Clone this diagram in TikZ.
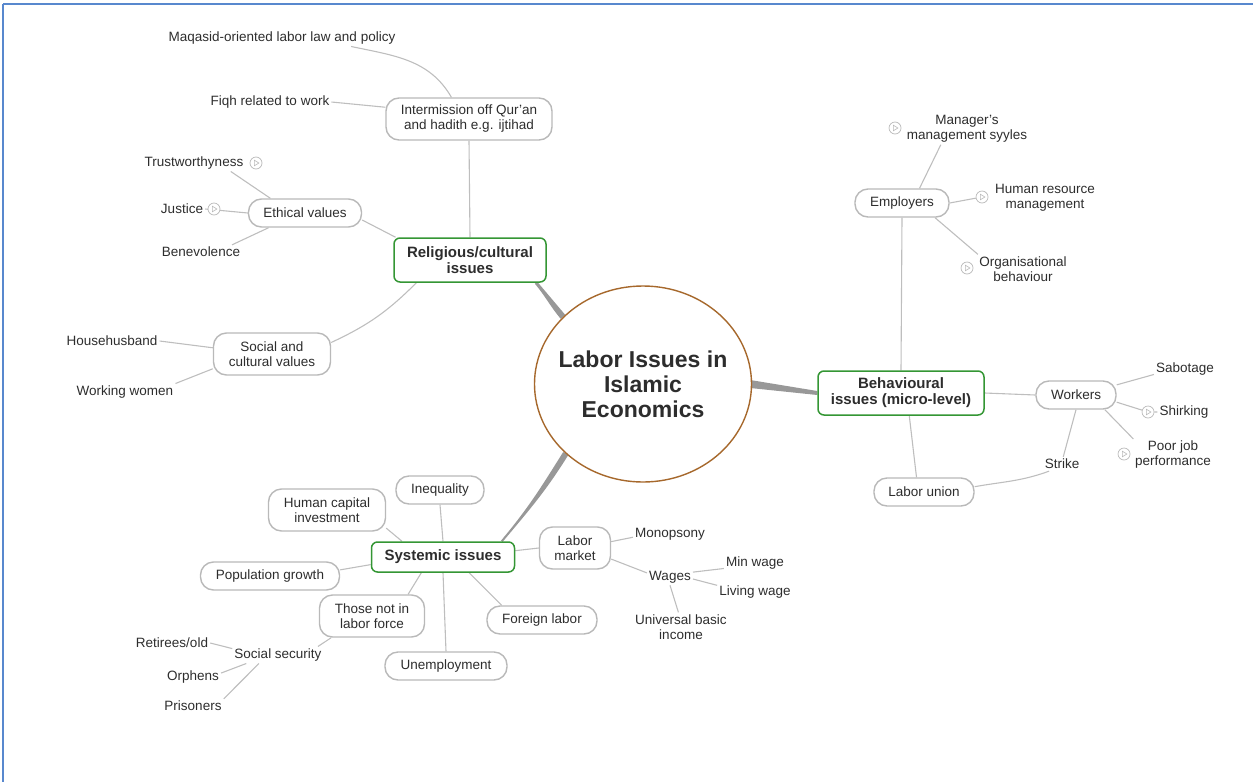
\documentclass[tikz,border=0pt]{standalone}
\usepackage{fontspec}
\setmainfont{Liberation Sans}
\usepackage{xcolor}
\usetikzlibrary{shapes.geometric, backgrounds}

\definecolor{framebl}{RGB}{88,136,206}
\definecolor{hubring}{RGB}{166,104,44}
\definecolor{branchgr}{RGB}{52,150,52}
\definecolor{leafgr}{RGB}{185,185,185}
\definecolor{linkgr}{RGB}{190,190,190}
\definecolor{trunkgr}{RGB}{152,152,152}
\definecolor{inkgr}{RGB}{45,45,45}

\begin{document}
\begin{tikzpicture}[
    x=1pt, y=-1pt,
    hub/.style={ellipse, draw=hubring, line width=1.4pt, fill=white,
                minimum width=217pt, minimum height=196pt, inner sep=0pt},
    hubtext/.style={align=center, text=inkgr,
                font=\fontsize{23}{25}\selectfont\bfseries},
    branch/.style={rectangle, rounded corners=6pt, draw=branchgr, line width=1.5pt,
                fill=white, minimum height=30pt, align=center, text=inkgr,
                font=\fontsize{15}{16}\selectfont\bfseries},
    leaf/.style={rectangle, rounded corners=13pt, draw=leafgr, line width=1.4pt,
                fill=white, minimum height=28pt, inner xsep=12pt, align=center,
                text=inkgr, font=\fontsize{13.5}{15}\selectfont},
    plain/.style={inner sep=2pt, align=center, text=inkgr,
                font=\fontsize{13.5}{15}\selectfont},
    icon/.style={circle, draw=leafgr, fill=white, line width=0.7pt,
                minimum size=12pt, inner sep=0pt,
                path picture={\draw[leafgr, line width=0.6pt]
                  ([xshift=-1.7pt,yshift=2.8pt]path picture bounding box.center)
                  -- ++(4.6pt,-2.8pt) -- ++(-4.6pt,-2.8pt) -- cycle;}},
    link/.style={draw=linkgr, line width=1.1pt},
    trunk/.style={fill=trunkgr}
]
\useasboundingbox (0,0) rectangle (1253,782);
\draw[framebl, line width=2.5pt] (1253,4) -- (3,4);
\draw[framebl, line width=1.5pt] (3,4) -- (3,782);

% centre
\node[hub] (hub) at (643,384) {};
\node[hubtext] (hubT) at (hub.center) {Labor Issues in\\Islamic\\Economics};

% religious / cultural
\node[branch, minimum width=152pt, minimum height=44pt] (rel) at (470,260) {Religious/cultural\\issues};
\node[leaf, minimum width=166pt, minimum height=42pt] (itm) at (469,119) {Intermission off Qur'an\\and hadith e.g. ijtihad};
\node[plain] (maq) at (282,38) {Maqasid-oriented labor law and policy};
\node[plain] (fiqh) at (270,102) {Fiqh related to work};
\node[leaf, minimum width=113pt] (eth) at (305,213) {Ethical values};
\node[plain] (trust) at (194,163) {Trustworthyness};
\node[icon] (trustI) at (256,163) {};
\node[plain] (just) at (182,209) {Justice};
\node[icon] (justI) at (214,209) {};
\node[plain] (bene) at (201,252) {Benevolence};
\node[leaf, minimum width=117pt, minimum height=42pt] (soc) at (272,354) {Social and\\cultural values};
\node[plain] (hhb) at (112,341) {Househusband};
\node[plain] (wwm) at (125,392) {Working women};

% behavioural
\node[branch, minimum width=166pt, minimum height=44pt] (bhv) at (901,393) {Behavioural\\issues (micro-level)};
\node[leaf, minimum width=94pt] (emp) at (902,203) {Employers};
\node[plain] (mgr) at (967,129) {Manager's\\management syyles};
\node[icon] (mgrI) at (895,128) {};
\node[plain] (hrm) at (1045,198) {Human resource\\management};
\node[icon] (hrmI) at (982,197) {};
\node[plain] (org) at (1023,269) {Organisational\\behaviour};
\node[icon] (orgI) at (967,268) {};
\node[leaf, minimum width=80pt] (wrk) at (1076,395) {Workers};
\node[plain] (sab) at (1185,369) {Sabotage};
\node[plain] (shk) at (1184,412) {Shirking};
\node[icon] (shkI) at (1148,412) {};
\node[plain] (poor) at (1173,455) {Poor job\\performance};
\node[icon] (poorI) at (1124,454) {};
\node[plain] (strk) at (1062,464) {Strike};
\node[leaf, minimum width=100pt] (lun) at (924,492) {Labor union};

% systemic
\node[branch, minimum width=143pt] (sys) at (443,557) {Systemic issues};
\node[leaf, minimum width=88pt] (ineq) at (440,490) {Inequality};
\node[leaf, minimum width=117pt, minimum height=42pt] (hci) at (327,510) {Human capital\\investment};
\node[leaf, minimum width=139pt] (pop) at (270,576) {Population growth};
\node[leaf, minimum width=105pt, minimum height=42pt] (tnl) at (372,616) {Those not in\\labor force};
\node[plain] (ssec) at (278,655) {Social security};
\node[plain] (ret) at (172,643) {Retirees/old};
\node[plain] (orph) at (193,677) {Orphens};
\node[plain] (pris) at (193,706) {Prisoners};
\node[leaf, minimum width=122pt] (unemp) at (446,666) {Unemployment};
\node[leaf, minimum width=110pt] (fgn) at (542,620) {Foreign labor};
\node[leaf, minimum width=71pt, minimum height=42pt, inner xsep=6pt] (lmk) at (575,548) {Labor\\market};
\node[plain] (mono) at (670,534) {Monopsony};
\node[plain] (wage) at (670,577) {Wages};
\node[plain] (minw) at (755,563) {Min wage};
\node[plain] (livw) at (755,592) {Living wage};
\node[plain] (ubi) at (681,627) {Universal basic\\income};

\begin{scope}[on background layer]
% trunks (tapered, wide at the hub)
\fill[trunk] ([xshift=1.2pt,yshift=1pt]rel.-19) to[out=-50,in=130]
    ([xshift=2.3pt,yshift=1.9pt]hub.140) -- ([xshift=-2.3pt,yshift=-1.9pt]hub.140)
    to[out=130,in=-50] ([xshift=-1.2pt,yshift=-1pt]rel.-19) -- cycle;
\fill[trunk] ([xshift=-2pt,yshift=4pt]hub.east) -- ([yshift=2pt]bhv.west)
    -- ([yshift=-2pt]bhv.west) -- ([xshift=-2pt,yshift=-4pt]hub.east) -- cycle;
\fill[trunk] ([xshift=-2.5pt,yshift=1.6pt]hub.222) to[out=238,in=50]
    ([xshift=-0.8pt,yshift=0.6pt]sys.15) -- ([xshift=0.8pt,yshift=-0.6pt]sys.15)
    to[out=50,in=238] ([xshift=2.5pt,yshift=-1.6pt]hub.222) -- cycle;
% religious links
\draw[link] (itm.south) -- (rel.north);
\draw[link] (maq.-7.5) to[out=-12,in=120] (itm.129);
\draw[link] (fiqh.east) -- (itm.172);
\draw[link] (eth.-7) -- (rel.163);
\draw[link] (trust.-13) -- (eth.157);
\draw[link] (just.east) -- (eth.west);
\draw[link] (bene.13) -- (eth.202);
\draw[link] (soc.11) to[out=25,in=225] (rel.203);
\draw[link] (hhb.east) -- (soc.174);
\draw[link] (wwm.north east) -- (soc.194);
% behavioural links
\draw[link] (emp.south) -- (bhv.north);
\draw[link] (mgr.211) -- (emp.40);
\draw[link] (emp.east) -- (hrmI);
\draw[link] (emp.-24) -- (org.162);
\draw[link] (bhv.east) -- (wrk.west);
\draw[link] (wrk.14) -- (sab.190);
\draw[link] (wrk.-10) -- (shkI) -- (shk.west);
\draw[link] (wrk.-27) -- (poor.158);
\draw[link] (wrk.south) -- (strk.80);
\draw[link] (bhv.-70) -- (lun.117);
\draw[link] (lun.6) to[out=10,in=200] (strk.209);
% systemic links
\draw[link] (ineq.south) -- (sys.north);
\draw[link] (hci.-17) -- (sys.159);
\draw[link] (pop.5) -- (sys.186);
\draw[link] (tnl.31) -- (sys.216);
\draw[link] (ssec.12) -- (tnl.208);
\draw[link] (ret.east) -- (ssec.172);
\draw[link] (orph.8) -- (ssec.195);
\draw[link] (pris.north east) -- (ssec.204);
\draw[link] (sys.south) -- (unemp.north);
\draw[link] (sys.-31) -- (fgn.160);
\draw[link] (sys.5) -- (lmk.west);
\draw[link] (lmk.10) -- (mono.185);
\draw[link] (lmk.-17) -- (wage.170);
\draw[link] (wage.12) -- (minw.190);
\draw[link] (wage.-5) -- (livw.170);
\draw[link] (wage.south) -- (ubi.100);
\end{scope}
\end{tikzpicture}
\end{document}
